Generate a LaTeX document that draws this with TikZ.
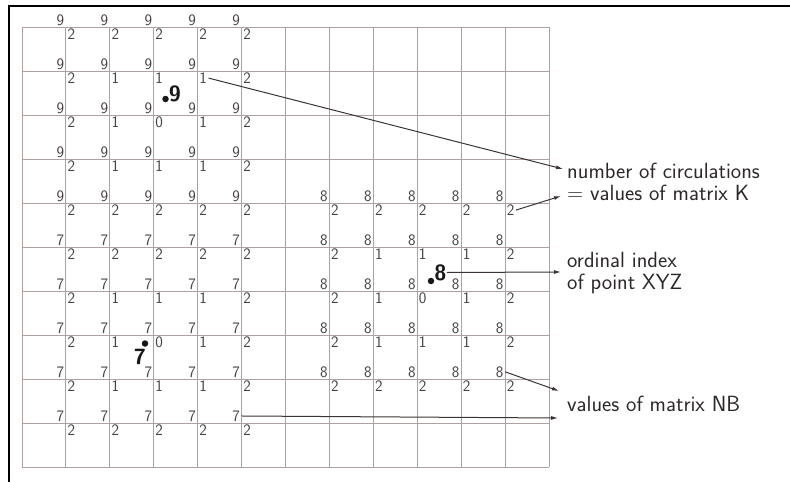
\documentclass[tikz,border=0pt]{standalone}
\usepackage{fontspec}
\usetikzlibrary{arrows.meta,calc}
\definecolor{gridc}{RGB}{178,160,160}
\definecolor{digc}{RGB}{72,64,64}
\definecolor{txtc}{RGB}{45,40,40}
\definecolor{arrc}{RGB}{60,52,52}
\definecolor{bigc}{RGB}{25,22,22}
\begin{document}
\begin{tikzpicture}[x=1pt,y=-1pt,
  up/.style={anchor=south east,inner sep=1.5pt,text=digc,font=\sffamily\fontsize{16}{16}\selectfont},
  dn/.style={anchor=north west,inner sep=1.5pt,text=digc,font=\sffamily\fontsize{16}{16}\selectfont},
  big/.style={inner sep=0pt,text=bigc,font=\sffamily\bfseries\fontsize{22}{22}\selectfont},
  bdot/.style={circle,fill=bigc,inner sep=0pt,minimum size=6.5pt},
  lab/.style={anchor=base west,inner sep=0pt,text=txtc,font=\sffamily\fontsize{22}{22}\selectfont},
  arr/.style={draw=arrc,line width=1pt,-{Latex[length=7pt,width=4pt]}},
  gline/.style={draw=gridc,line width=1pt}]
\useasboundingbox (0,0) rectangle (790,482);
% frame
\draw[line width=2.5pt] (9,482) -- (9,6) -- (790,6);
% grid
\foreach \i in {0,...,12} \draw[gline] ({22+\i*43.9167},27) -- ({22+\i*43.9167},467);
\foreach \j in {0,...,10} \draw[gline] (22,{27+\j*44}) -- (549,{27+\j*44});
% left block
\foreach \j/\u/\t in {0/9/0,1/9/1,2/9/2,3/9/1,4/9/0,5/7/0,6/7/1,7/7/2,8/7/1,9/7/0} {
  \foreach \i in {1,...,5} {
    \pgfmathtruncatemacro\v{(\i==1 || \i==5 || \t==0) ? 2 : ((\t==2 && \i==3) ? 0 : 1)}
    \node[up] (uL\j\i) at ({22+\i*43.9167},{27+\j*44}) {\u};
    \node[dn] (dL\j\i) at ({22+\i*43.9167},{27+\j*44}) {\v};
  }
}
% right block
\foreach \j/\t in {4/0,5/1,6/2,7/1,8/0} {
  \foreach \i in {1,...,5} {
    \pgfmathtruncatemacro\v{(\i==1 || \i==5 || \t==0) ? 2 : ((\t==2 && \i==3) ? 0 : 1)}
    \node[up] (uR\j\i) at ({22+(\i+6)*43.9167},{27+\j*44}) {8};
    \node[dn] (dR\j\i) at ({22+(\i+6)*43.9167},{27+\j*44}) {\v};
  }
}
% marked points
\node[bdot] (p9) at (165.5,99) {};
\node[big] (b9) at (175,93.5) {9};
\node[bdot] (p7) at (145,343.5) {};
\node[big] (b7) at (140,357) {7};
\node[bdot] (p8) at (431,281) {};
\node[big] (b8) at (440.5,272.5) {8};
% labels
\node[lab] (k1) at (567,178) {number of circulations};
\node[lab] (k2) at (567,200) {= values of matrix K};
\node[lab] (o1) at (567,267) {ordinal index};
\node[lab] (o2) at (567,289) {of point XYZ};
\node[lab] (nb) at (567,411) {values of matrix NB};
% connectors
\draw[arr] (dL14.east) -- ($(k1.base west)+(-4,-9)$);
\draw[arr] (dR45.east) -- ($(k2.base west)+(-6,-4)$);
\draw[arr] (b8.east) -- ($(o1.base west)+(-6,5)$);
\draw[arr] (uR85.east) -- ($(nb.base west)+(-8,-20)$);
\draw[arr] (uL95.east) -- ($(nb.base west)+(-9,7)$);
\end{tikzpicture}
\end{document}
